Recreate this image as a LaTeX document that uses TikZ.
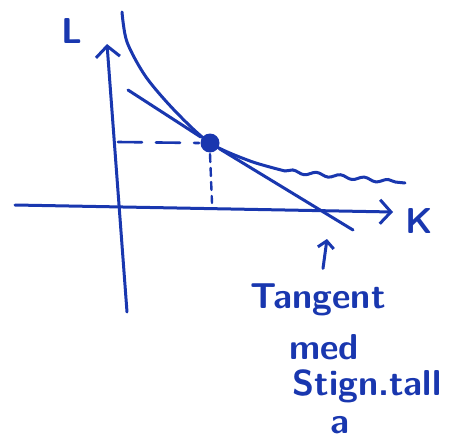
\documentclass[tikz,border=0pt]{standalone}
\usepackage{tikz}
\usetikzlibrary{arrows.meta, decorations.pathmorphing}
\definecolor{pen}{RGB}{25,55,175}

\begin{document}
\begin{tikzpicture}[x=1pt, y=-1pt, color=pen, line width=3pt, line cap=round,
        axis/.style={-{Straight Barb[length=11pt, width=24pt, line width=3pt]}},
        txt/.style={font=\sffamily\bfseries\fontsize{36}{38}\selectfont, inner sep=0pt},
        guide/.style={line width=2.6pt, dash pattern=on 24pt off 14pt}]

        \useasboundingbox (0,0) rectangle (450,439);

        % axes
        \coordinate (ybot) at (127,312);
        \coordinate (ytop) at (107,44);
        \coordinate (xleft) at (15,205);
        \coordinate (xright) at (393,212);
        \draw[axis] (ybot) -- (ytop);
        \draw[axis] (xleft) -- (xright);
        \node[txt] (L) at (72,31) {L};
        \node[txt] (K) at (419,221) {K};

        % isoquant and tangent
        \node[circle, fill=pen, minimum size=19pt, inner sep=0pt] (T) at (210,143) {};
        \coordinate (wave) at (285,171);
        \draw plot[smooth] coordinates {(122,12) (127,42) (146,77) (176,112) (210,143) (250,161) (285,171)};
        \draw[decorate, decoration={snake, amplitude=1.8pt, segment length=24pt}] (wave) -- (405,183);
        \coordinate (tstart) at (128,90);
        \coordinate (tend) at (353,230);
        \draw (tstart) -- (T) -- (tend);

        % guides to the axes
        \coordinate (yL) at (118,142);
        \coordinate (xK) at (212,203);
        \draw[guide] (yL) -- (T.west);
        \draw[line width=2.4pt, dash pattern=on 8pt off 6pt] (T.south) -- (xK);

        % note
        \node[txt] (note1) at (318,300) {Tangent};
        \node[txt] (note2) at (324,347) {med};
        \node[txt] (note3) at (367,386) {Stign.tall};
        \node[txt] (note4) at (340,425) {a};
        \coordinate (ptip) at (327,239);
        \draw[-{Straight Barb[length=7pt, width=16pt]}] (note1.north -| 323,0) ++(0,-14) -- (ptip);
\end{tikzpicture}
\end{document}
